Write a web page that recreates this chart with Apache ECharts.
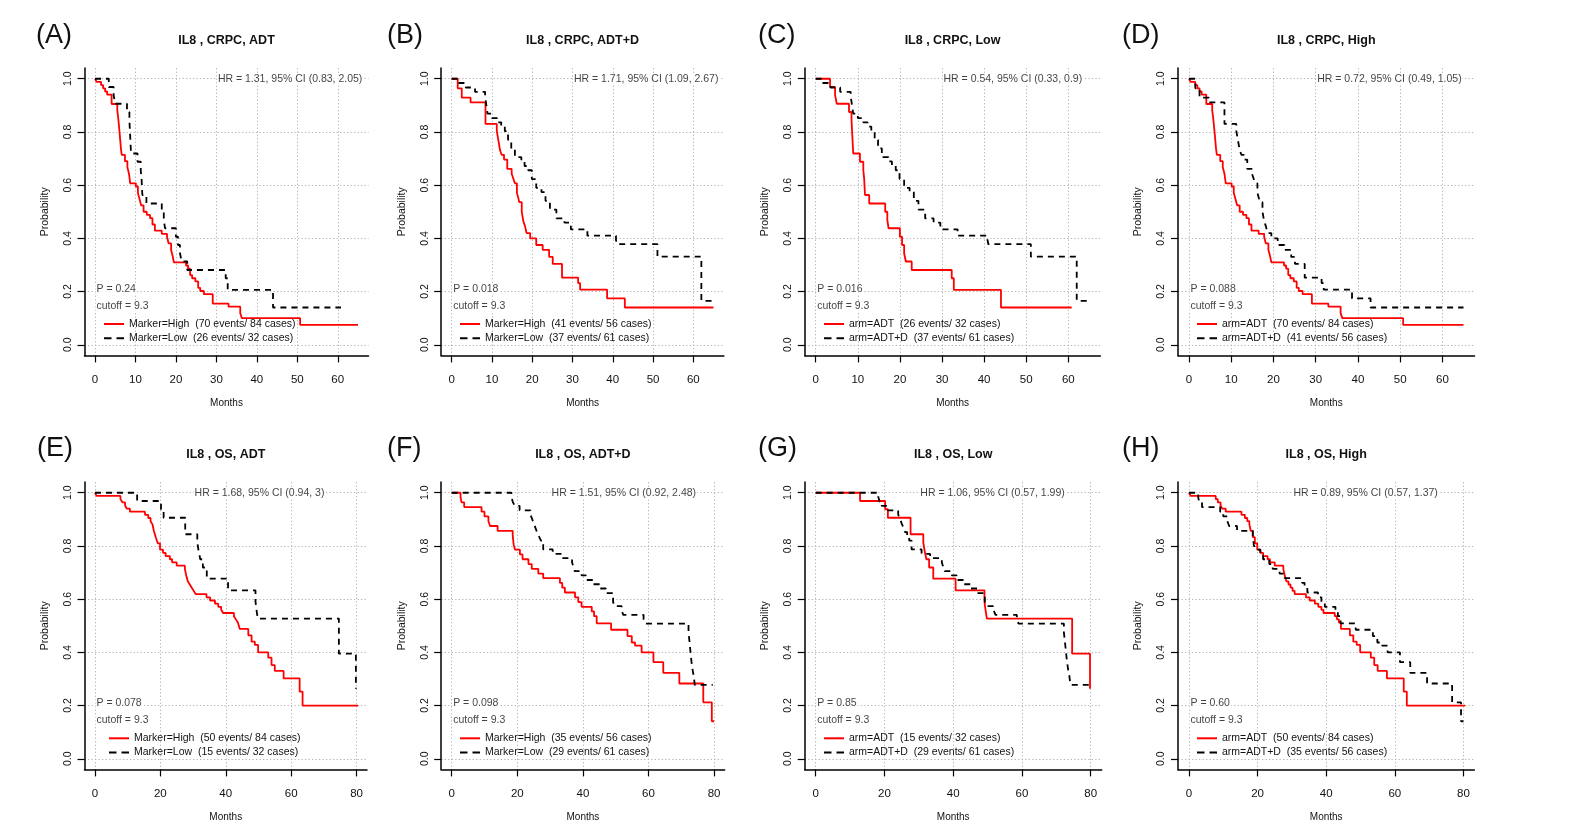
<!DOCTYPE html>
<html><head><meta charset="utf-8">
<script src="https://cdn.jsdelivr.net/npm/echarts@6/dist/echarts.min.js"></script>
<style>html,body{margin:0;padding:0;background:#fff}#c{width:1585px;height:836px}</style>
</head><body><div id="c"></div>
<script>
// ---------- DATA (Kaplan-Meier step points: [month, survival probability]) ----------
const crpcAdtHigh = [[0,1],[0.4,0.988],[1.5,0.976],[2,0.964],[2.5,0.952],[3,0.94],[4.1,0.905],[5.5,0.881],[5.7,0.857],[6,0.81],[6.2,0.774],[6.4,0.738],[6.6,0.714],[7.4,0.69],[8,0.667],[8.4,0.643],[8.7,0.607],[10.1,0.595],[10.6,0.571],[11,0.548],[11.4,0.524],[12,0.5],[12.8,0.488],[13.6,0.476],[14.2,0.452],[14.8,0.429],[16.5,0.417],[17.8,0.405],[18.2,0.381],[18.8,0.357],[19.2,0.333],[19.5,0.31],[22.5,0.298],[23,0.286],[23.5,0.262],[24,0.25],[24.8,0.238],[25.5,0.214],[26,0.202],[26.9,0.19],[29.1,0.155],[33,0.143],[35.9,0.119],[36.3,0.1],[50.7,0.075],[65,0.075]];
const crpcAdtLow = [[0,1],[3.4,0.969],[4.6,0.938],[5,0.906],[7.9,0.875],[8.5,0.844],[8.7,0.781],[8.9,0.719],[10.5,0.688],[11.3,0.656],[11.5,0.625],[11.7,0.563],[12.7,0.531],[16.5,0.5],[17,0.469],[17.3,0.438],[20,0.406],[20.5,0.375],[21,0.344],[21.4,0.313],[22.8,0.281],[32.3,0.25],[32.8,0.206],[44,0.14],[60.8,0.14]];
const crpcAdtdHigh = [[0,1],[1.5,0.964],[2.5,0.929],[4.7,0.911],[8.4,0.83],[11.2,0.804],[11.6,0.768],[12,0.732],[12.4,0.714],[13,0.696],[13.8,0.661],[14.9,0.643],[15.3,0.625],[15.7,0.607],[16.2,0.571],[16.5,0.554],[16.8,0.536],[17.4,0.5],[17.8,0.464],[18.2,0.446],[18.6,0.42],[19.5,0.4],[21,0.375],[22.6,0.357],[24.2,0.33],[25.1,0.304],[27.4,0.252],[31.4,0.232],[31.9,0.207],[38.6,0.174],[43,0.14],[65,0.14]];
const crpcAdtdLow = [[0,1],[1.3,0.984],[3.5,0.967],[5.8,0.951],[8.3,0.934],[8.6,0.902],[8.9,0.869],[10,0.852],[11.3,0.836],[12.3,0.82],[13.2,0.803],[14,0.77],[14.8,0.738],[15.7,0.705],[17.3,0.689],[18.1,0.672],[19,0.656],[19.9,0.623],[21,0.59],[22.3,0.574],[23.3,0.541],[24.4,0.508],[26,0.475],[28,0.459],[29.6,0.434],[33.7,0.41],[40.8,0.394],[41,0.378],[51.1,0.331],[62,0.165],[65.4,0.165]];
const osAdtHigh = [[0,1],[0.5,0.988],[7.8,0.976],[8.4,0.964],[9.2,0.952],[9.7,0.94],[10.7,0.929],[15.3,0.917],[16.3,0.905],[17,0.893],[17.6,0.881],[18,0.857],[18.6,0.833],[19.2,0.81],[19.9,0.786],[20.8,0.774],[21.6,0.762],[22.9,0.75],[23.6,0.738],[25,0.726],[27.5,0.714],[27.9,0.69],[28.4,0.667],[29,0.655],[29.6,0.643],[30.2,0.631],[30.8,0.619],[34.1,0.607],[35.2,0.595],[36.7,0.583],[37.7,0.571],[38.6,0.56],[39.2,0.548],[42.5,0.536],[43.1,0.524],[43.7,0.512],[44.3,0.488],[46.9,0.464],[47.9,0.44],[48.9,0.428],[49.9,0.4],[53,0.38],[54,0.352],[55,0.33],[57.7,0.302],[62.6,0.252],[63.5,0.2],[80.5,0.2]];
const osAdtLow = [[0,1],[12.9,0.969],[20.2,0.938],[21,0.906],[27.6,0.844],[31.3,0.813],[31.7,0.781],[32.2,0.75],[33,0.719],[34.2,0.677],[40.7,0.633],[49.1,0.591],[49.4,0.56],[49.8,0.527],[74.6,0.395],[79.8,0.263]];
const osAdtdHigh = [[0,1],[2.7,0.982],[3,0.964],[3.8,0.946],[9.1,0.929],[10,0.911],[11.2,0.893],[11.7,0.875],[14,0.857],[18.6,0.839],[18.9,0.804],[19.3,0.786],[20.8,0.768],[21.6,0.75],[23.4,0.732],[24.4,0.714],[26.4,0.696],[27.9,0.679],[33,0.661],[33.7,0.643],[34.5,0.625],[37.6,0.607],[38.6,0.589],[39.6,0.571],[42.7,0.554],[43.4,0.536],[44.2,0.509],[48.6,0.485],[53.6,0.461],[54.9,0.437],[55.9,0.425],[57.9,0.4],[61.5,0.363],[64.5,0.323],[69.4,0.283],[76.7,0.212],[79.3,0.141],[80,0.141]];
const osAdtdLow = [[0,1],[18.2,0.984],[18.6,0.967],[19.2,0.951],[20.7,0.934],[24,0.918],[24.5,0.902],[25,0.885],[25.5,0.869],[26,0.852],[26.6,0.836],[27.2,0.82],[27.9,0.787],[30.8,0.77],[33.3,0.754],[36.7,0.738],[37.1,0.721],[37.5,0.705],[39.6,0.689],[41,0.672],[43.1,0.656],[45,0.64],[47,0.623],[49.2,0.59],[49.6,0.574],[51.8,0.557],[52.3,0.541],[58.5,0.525],[59,0.508],[72.2,0.475],[72.5,0.44],[72.8,0.402],[73.1,0.365],[73.5,0.33],[73.8,0.31],[74.1,0.278],[79.6,0.278]];

const panelLetters = ['(A)','(B)','(C)','(D)','(E)','(F)','(G)','(H)'];
const panelTitles = ['IL8 , CRPC, ADT','IL8 , CRPC, ADT+D','IL8 , CRPC, Low','IL8 , CRPC, High','IL8 , OS, ADT','IL8 , OS, ADT+D','IL8 , OS, Low','IL8 , OS, High'];
const hrTexts = ['HR = 1.31, 95% CI (0.83, 2.05)','HR = 1.71, 95% CI (1.09, 2.67)','HR = 0.54, 95% CI (0.33, 0.9)','HR = 0.72, 95% CI (0.49, 1.05)','HR = 1.68, 95% CI (0.94, 3)','HR = 1.51, 95% CI (0.92, 2.48)','HR = 1.06, 95% CI (0.57, 1.99)','HR = 0.89, 95% CI (0.57, 1.37)'];
const pTexts = ['P = 0.24','P = 0.018','P = 0.016','P = 0.088','P = 0.078','P = 0.098','P = 0.85','P = 0.60'];
const cutoffText = 'cutoff = 9.3';
const redLabels = ['Marker=High  (70 events/ 84 cases)','Marker=High  (41 events/ 56 cases)','arm=ADT  (26 events/ 32 cases)','arm=ADT  (70 events/ 84 cases)','Marker=High  (50 events/ 84 cases)','Marker=High  (35 events/ 56 cases)','arm=ADT  (15 events/ 32 cases)','arm=ADT  (50 events/ 84 cases)'];
const blackLabels = ['Marker=Low  (26 events/ 32 cases)','Marker=Low  (37 events/ 61 cases)','arm=ADT+D  (37 events/ 61 cases)','arm=ADT+D  (41 events/ 56 cases)','Marker=Low  (15 events/ 32 cases)','Marker=Low  (29 events/ 61 cases)','arm=ADT+D  (29 events/ 61 cases)','arm=ADT+D  (35 events/ 56 cases)'];
const redCurves = [crpcAdtHigh, crpcAdtdHigh, crpcAdtLow, crpcAdtHigh, osAdtHigh, osAdtdHigh, osAdtLow, osAdtHigh];
const blackCurves = [crpcAdtLow, crpcAdtdLow, crpcAdtdLow, crpcAdtdHigh, osAdtLow, osAdtdLow, osAdtdLow, osAdtdHigh];
const xTicksCRPC = [0,10,20,30,40,50,60];
const xTicksOS = [0,20,40,60,80];
const yTicks = [0,0.2,0.4,0.6,0.8,1.0];
const xRangeCRPC = [-2.6, 67.6];
const xRangeOS = [-3.2, 83.2];
const yRange = [-0.04, 1.04];
const hrAnchor = [30, 1.0];
const pAnchor = [0, 0.208];
const cutAnchor = [0, 0.145];

// ---------- LAYOUT / STYLE ----------
const FONT = '"Liberation Sans", Arial, Helvetica, sans-serif';
const TXT = '#111';
const layouts = [
  {left:84.5, top:68.1, width:284, height:287.3},
  {left:441.2, top:68.1, width:282.7, height:287.3},
  {left:804.8, top:68.1, width:295.5, height:287.3},
  {left:1178, top:68.1, width:296.5, height:287.3},
  {left:84.5, top:482.1, width:282.5, height:287.3},
  {left:441.2, top:482.1, width:283.4, height:287.3},
  {left:804.7, top:482.1, width:297, height:287.3},
  {left:1178, top:482.1, width:296.4, height:287.3}
];
const letterPos = [[36,35.5],[387,35.5],[758,35.5],[1122,35.5],[37,449],[387,449],[758,449],[1122,449]];
const legendPos = [[104,318],[460,318],[824,318],[1197,318],[109,732.3],[460,732.3],[824,732.3],[1197,732.3]];
const solidIcon = 'path://M0,0h20v2h-20z';
const dashIcon = 'path://M0,0h7.5v2h-7.5zM12.5,0h7.5v2h-7.5z';

const grids = [], xAxes = [], yAxes = [], series = [], legends = [], graphics = [];
const gridLine = {show:true, lineStyle:{color:'#b5b5b5', width:1, type:[1.3,2.2]}};
for (let i = 0; i < 8; i++) {
  const L = layouts[i];
  const isOS = i >= 4;
  const xt = isOS ? xTicksOS : xTicksCRPC;
  const xr = isOS ? xRangeOS : xRangeCRPC;
  grids.push({left:L.left, top:L.top, width:L.width, height:L.height, containLabel:false, outerBoundsMode:'none'});
  xAxes.push({
    type:'value', gridIndex:i, min:xr[0], max:xr[1],
    axisLine:{show:true, onZero:false, lineStyle:{color:'#000', width:1.5}},
    axisTick:{show:true, customValues:xt, length:7, lineStyle:{color:'#000', width:1.2}},
    axisLabel:{show:true, customValues:xt, margin:18, fontSize:11.5, color:TXT, fontFamily:FONT},
    splitLine:gridLine,
    name:'Months', nameLocation:'middle', nameGap:43,
    nameTextStyle:{fontSize:10, color:TXT, fontFamily:FONT}
  });
  yAxes.push({
    type:'value', gridIndex:i, min:yRange[0], max:yRange[1],
    axisLine:{show:true, onZero:false, lineStyle:{color:'#000', width:1.5}},
    axisTick:{show:true, customValues:yTicks, length:7, lineStyle:{color:'#000', width:1.2}},
    axisLabel:{show:true, customValues:yTicks, rotate:90, margin:11, fontSize:10.5, color:TXT, fontFamily:FONT,
      formatter: v => v.toFixed(1)},
    splitLine:gridLine,
    name:'Probability', nameLocation:'middle', nameGap:34,
    nameTextStyle:{fontSize:10.5, color:TXT, fontFamily:FONT}
  });
  series.push({
    type:'line', name:redLabels[i], xAxisIndex:i, yAxisIndex:i, data:redCurves[i], step:'end',
    symbol:'none', silent:true, animation:false,
    lineStyle:{color:'#ff0000', width:1.8}, itemStyle:{color:'#ff0000'}
  });
  series.push({
    type:'line', name:blackLabels[i], xAxisIndex:i, yAxisIndex:i, data:blackCurves[i], step:'end',
    symbol:'none', silent:true, animation:false,
    lineStyle:{color:'#000', width:1.8, type:[6,5]}, itemStyle:{color:'#000'}
  });
  series.push({
    type:'scatter', xAxisIndex:i, yAxisIndex:i, symbolSize:1, silent:true, animation:false,
    itemStyle:{color:'rgba(0,0,0,0)'},
    data:[{value:hrAnchor, name:hrTexts[i]}, {value:pAnchor, name:pTexts[i]}, {value:cutAnchor, name:cutoffText}],
    label:{show:true, position:'right', distance:0, formatter:'{b}', fontSize:10.5, color:TXT, fontFamily:FONT,
      backgroundColor:'#fff', padding:[0,1]}
  });
  legends.push({
    left:legendPos[i][0], top:legendPos[i][1], orient:'vertical', padding:0,
    itemWidth:20, itemHeight:12, itemGap:2.3, selectedMode:false, symbolKeepAspect:true,
    data:[
      {name:redLabels[i], icon:solidIcon, itemStyle:{color:'#ff0000', borderWidth:0}},
      {name:blackLabels[i], icon:dashIcon, itemStyle:{color:'#000', borderWidth:0}}
    ],
    textStyle:{fontSize:10.5, color:TXT, fontFamily:FONT, lineHeight:12}
  });
  graphics.push({type:'text', x:letterPos[i][0], y:letterPos[i][1],
    style:{text:panelLetters[i], fill:'#111', font:'27px ' + FONT, textAlign:'left', textVerticalAlign:'middle', align:'left', verticalAlign:'middle'}});
  graphics.push({type:'text', x:L.left + L.width/2, y:isOS ? 455 : 40.7,
    style:{text:panelTitles[i], fill:'#111', font:'bold 12.5px ' + FONT, textAlign:'center', textVerticalAlign:'middle', align:'center', verticalAlign:'middle'}});
}

const chart = echarts.init(document.getElementById('c'), null, {renderer:'canvas'});
chart.setOption({
  animation:false,
  backgroundColor:'#fff',
  grid:grids, xAxis:xAxes, yAxis:yAxes, series:series, legend:legends,
  graphic:{elements:graphics}
});
</script></body></html>
